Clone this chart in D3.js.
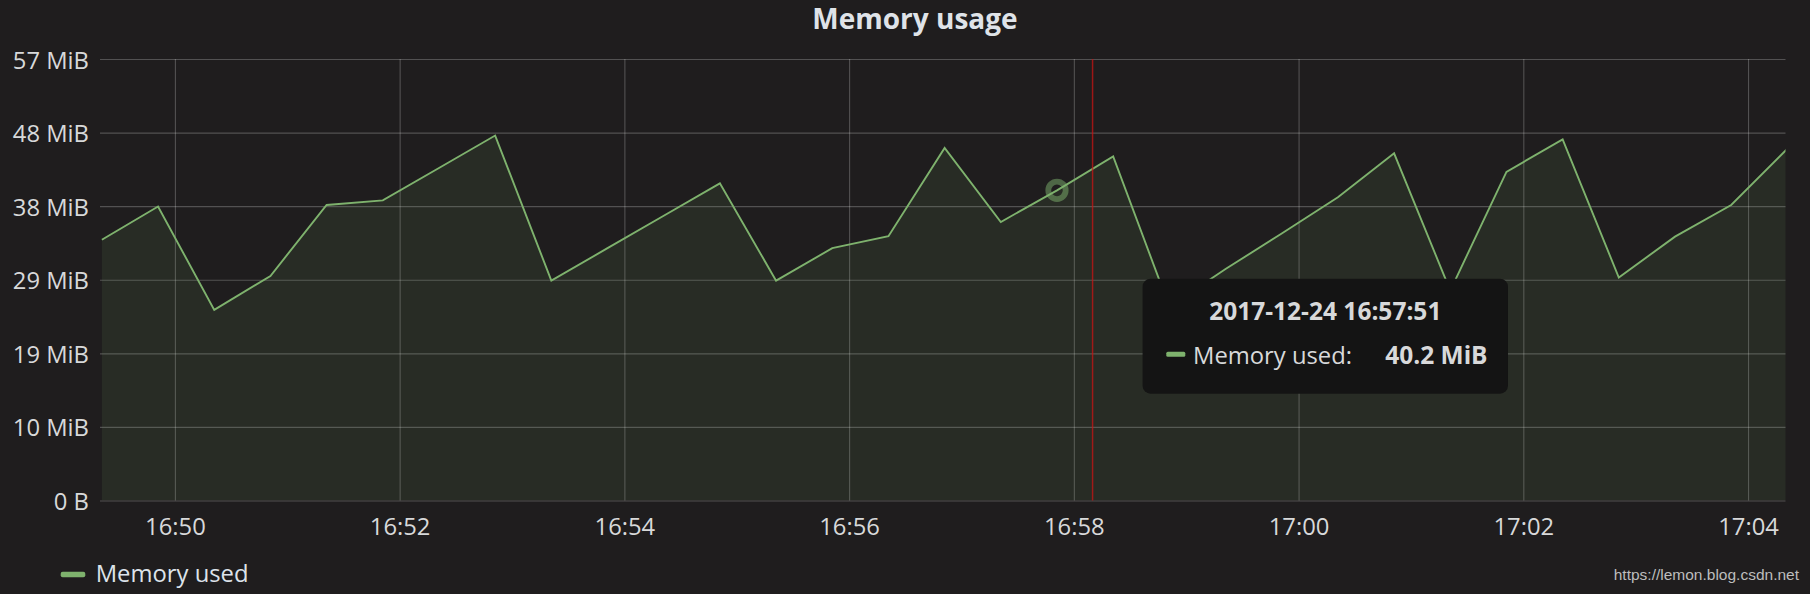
<!DOCTYPE html>
<html>
<head>
<meta charset="utf-8">
<script src="https://cdn.jsdelivr.net/npm/d3@7"></script>
<style>
  html, body { margin: 0; padding: 0; background: #1f1d1e; }
  svg { display: block; }
  text { font-family: "Open Sans", "Noto Sans", sans-serif; }
</style>
</head>
<body>
<svg id="chart" width="1810" height="594"></svg>
<script>
// ---------- data ----------
const chartTitle = "Memory usage";
const seriesName = "Memory used";
const day = "2017-12-24";
const times = [
  "16:49:21","16:49:51","16:50:21","16:50:51","16:51:21","16:51:51","16:52:21","16:52:51",
  "16:53:21","16:53:51","16:54:21","16:54:51","16:55:21","16:55:51","16:56:21","16:56:51",
  "16:57:21","16:57:51","16:58:21","16:58:51","16:59:21","16:59:51","17:00:21","17:00:51",
  "17:01:21","17:01:51","17:02:21","17:02:51","17:03:21","17:03:51","17:04:21"
];
// memory used, MiB
const memoryMiB = [
  33.8, 38.1, 24.7, 29.1, 38.3, 38.9, 43.1, 47.3,
  28.5, 32.7, 36.9, 41.1, 28.5, 32.7, 34.25, 45.7,
  36.1, 40.2, 44.6, 25.1, 30.0, 34.6, 39.3, 45.0,
  27.2, 42.6, 46.8, 28.9, 34.2, 38.3, 45.6
];
const timeRange = ["16:49:20", "17:04:20"];
const xTickLabels = ["16:50","16:52","16:54","16:56","16:58","17:00","17:02","17:04"];
const yTickBytes = [0, 10e6, 20e6, 30e6, 40e6, 50e6, 60e6];
const yTickLabels = ["0 B","10 MiB","19 MiB","29 MiB","38 MiB","48 MiB","57 MiB"];
const hoverTime = "16:57:51";
const markerTime = "16:58:10";
const watermark = "https://lemon.blog.csdn.net";

// ---------- helpers ----------
const parse = d3.timeParse("%Y-%m-%d %H:%M:%S");
const parseHM = d3.timeParse("%Y-%m-%d %H:%M");
const toDate = t => parse(day + " " + t);
const MiB = 1048576;
const data = times.map((t, i) => ({ t: toDate(t), v: memoryMiB[i] }));

const plot = { left: 100, right: 1785.5, top: 59, bottom: 500.5 };
const green = "#7eb26d";
const textColor = "#d8d9da";
const gridColor = "rgba(255,255,255,0.23)";

const x = d3.scaleTime()
  .domain(timeRange.map(toDate))
  .range([plot.left, plot.right]);
const y = d3.scaleLinear()
  .domain([0, yTickBytes[yTickBytes.length - 1] / MiB])
  .range([plot.bottom, plot.top]);

const svg = d3.select("#chart");

svg.append("defs").append("clipPath").attr("id", "clip")
  .append("rect")
  .attr("x", plot.left).attr("y", plot.top - 5)
  .attr("width", plot.right - plot.left)
  .attr("height", plot.bottom - plot.top + 5);

// title
svg.append("text")
  .attr("x", 915).attr("y", 29)
  .attr("text-anchor", "middle")
  .attr("fill", "#dfe3e8")
  .attr("font-size", 28)
  .attr("font-weight", 700)
  .text(chartTitle);

// ---------- grid / axes ----------
const yTickVals = yTickBytes.map(b => b / MiB);
const xTickVals = xTickLabels.map(s => parseHM(day + " " + s));

const yAxis = d3.axisLeft(y)
  .tickValues(yTickVals)
  .tickSize(-(plot.right - plot.left))
  .tickPadding(11)
  .tickFormat((d, i) => yTickLabels[i]);
const gy = svg.append("g")
  .attr("transform", `translate(${plot.left},0)`)
  .call(yAxis);
gy.select(".domain").remove();
gy.selectAll(".tick line").attr("stroke", gridColor).attr("stroke-width", 1.1);
gy.selectAll(".tick text")
  .attr("fill", textColor)
  .attr("font-size", 23.8)
  .attr("dy", "0.38em");

const xAxis = d3.axisBottom(x)
  .tickValues(xTickVals)
  .tickSize(-(plot.bottom - plot.top))
  .tickPadding(18)
  .tickFormat((d, i) => xTickLabels[i]);
const gx = svg.append("g")
  .attr("transform", `translate(0,${plot.bottom})`)
  .call(xAxis);
gx.select(".domain").remove();
gx.selectAll(".tick line").attr("stroke", gridColor).attr("stroke-width", 1.1);
gx.selectAll(".tick text")
  .attr("fill", textColor)
  .attr("font-size", 23.8)
  .attr("dy", "0.71em");

// ---------- series ----------
const g = svg.append("g").attr("clip-path", "url(#clip)");
g.append("path")
  .datum(data)
  .attr("fill", green)
  .attr("fill-opacity", 0.1)
  .attr("d", d3.area().x(d => x(d.t)).y0(y(0)).y1(d => y(d.v)));
g.append("path")
  .datum(data)
  .attr("fill", "none")
  .attr("stroke", green)
  .attr("stroke-width", 1.9)
  .attr("stroke-linejoin", "miter")
  .attr("d", d3.line().x(d => x(d.t)).y(d => y(d.v)));

// vertical red marker
const mx = x(toDate(markerTime));
svg.append("line")
  .attr("x1", mx).attr("x2", mx)
  .attr("y1", plot.top).attr("y2", plot.bottom)
  .attr("stroke", "rgba(200,20,20,0.75)")
  .attr("stroke-width", 1.5);

// hover point
const hp = data.find(d => +d.t === +toDate(hoverTime));
const hx = x(hp.t), hy = y(hp.v);
svg.append("circle")
  .attr("cx", hx).attr("cy", hy).attr("r", 8.7)
  .attr("fill", "none")
  .attr("stroke", green)
  .attr("stroke-opacity", 0.5)
  .attr("stroke-width", 5.8);

// ---------- tooltip ----------
const tip = svg.append("g").attr("transform", `translate(${hx + 85.6},${hy + 88.3})`);
const tipW = 365.4, tipH = 115;
tip.append("rect")
  .attr("width", tipW).attr("height", tipH)
  .attr("rx", 8).attr("ry", 8)
  .attr("fill", "#141414");
tip.append("text")
  .attr("x", tipW / 2).attr("y", 41.7)
  .attr("text-anchor", "middle")
  .attr("fill", textColor)
  .attr("font-size", 24.5)
  .attr("font-weight", 700)
  .text(d3.timeFormat("%Y-%m-%d %H:%M:%S")(hp.t));
tip.append("rect")
  .attr("x", 23.7).attr("y", 73.2)
  .attr("width", 19).attr("height", 5)
  .attr("rx", 1.5)
  .attr("fill", green);
tip.append("text")
  .attr("x", 50.4).attr("y", 85)
  .attr("fill", textColor)
  .attr("font-size", 23.8)
  .text(seriesName + ":");
tip.append("text")
  .attr("x", 345).attr("y", 85)
  .attr("text-anchor", "end")
  .attr("fill", textColor)
  .attr("font-size", 24.5)
  .attr("font-weight", 700)
  .text(d3.format(".1f")(hp.v) + " MiB");

// ---------- legend ----------
svg.append("rect")
  .attr("x", 60.7).attr("y", 571.8)
  .attr("width", 24.6).attr("height", 5.5)
  .attr("rx", 2)
  .attr("fill", green);
svg.append("text")
  .attr("x", 95.7).attr("y", 581.7)
  .attr("fill", "#dde3ea")
  .attr("font-size", 23.8)
  .text(seriesName);

// watermark
svg.append("text")
  .attr("x", 1799).attr("y", 580)
  .attr("text-anchor", "end")
  .attr("fill", "#bdbdbd")
  .attr("font-size", 15.5)
  .style("font-family", "'Liberation Sans', Arial, sans-serif")
  .text(watermark);
</script>
</body>
</html>
